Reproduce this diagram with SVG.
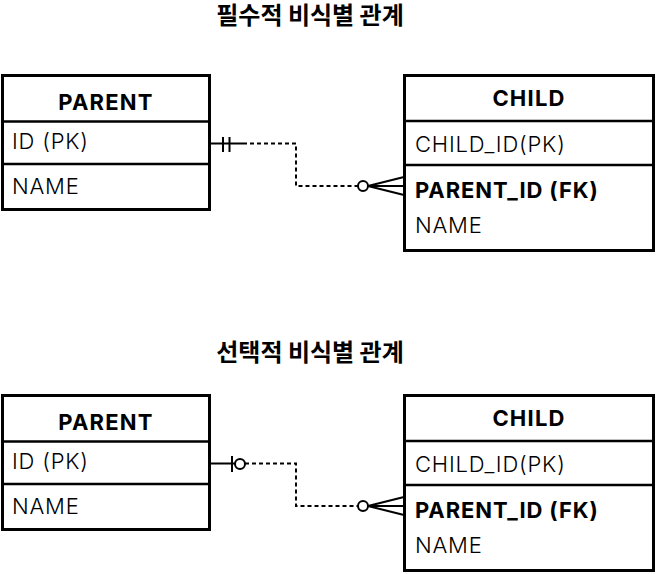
<svg xmlns="http://www.w3.org/2000/svg" width="656" height="574" viewBox="0 0 656 574">
<style>
.box{fill:#fff;stroke:#000;stroke-width:3}
.div{stroke:#000;stroke-width:2.5}
.t{font-family:Inter,"Noto Sans",sans-serif;font-size:22px;font-weight:300;letter-spacing:0.8px;fill:#000}
.h{font-weight:bold;text-anchor:middle;letter-spacing:1.2px}
.b{font-weight:bold;letter-spacing:0.9px}
.title{font-family:"Noto Sans CJK KR",sans-serif;font-size:24px;font-weight:bold;text-anchor:middle;fill:#000}
.ln{fill:none;stroke:#000;stroke-width:2}
.dash{fill:none;stroke:#000;stroke-width:2;stroke-dasharray:4 3}
.c{fill:#fff;stroke:#000;stroke-width:2}
</style>
<text class="title" x="310" y="24">필수적 비식별 관계</text>
<text class="title" x="310" y="361">선택적 비식별 관계</text>
<g id="parent1">
<rect class="box" x="2.5" y="75.5" width="207" height="134"/>
<line class="div" x1="2.5" y1="121.5" x2="209.5" y2="121.5"/>
<line class="div" x1="2.5" y1="164" x2="209.5" y2="164"/>
<text class="t h" x="106" y="110">PARENT</text>
<text class="t" x="12" y="149">ID (PK)</text>
<text class="t" x="12" y="194">NAME</text>
</g>
<g id="child1">
<rect class="box" x="404.5" y="75.5" width="249" height="175"/>
<line class="div" x1="404.5" y1="121" x2="653.5" y2="121"/>
<line class="div" x1="404.5" y1="165" x2="653.5" y2="165"/>
<text class="t h" x="529" y="106">CHILD</text>
<text class="t" x="415" y="152">CHILD_ID(PK)</text>
<text class="t b" x="415" y="198">PARENT_ID (FK)</text>
<text class="t" x="415" y="233">NAME</text>
</g>
<g id="parent2">
<rect class="box" x="2.5" y="395.5" width="207" height="134"/>
<line class="div" x1="2.5" y1="441.5" x2="209.5" y2="441.5"/>
<line class="div" x1="2.5" y1="484" x2="209.5" y2="484"/>
<text class="t h" x="106" y="430">PARENT</text>
<text class="t" x="12" y="469">ID (PK)</text>
<text class="t" x="12" y="514">NAME</text>
</g>
<g id="child2">
<rect class="box" x="404.5" y="395.5" width="249" height="175"/>
<line class="div" x1="404.5" y1="441" x2="653.5" y2="441"/>
<line class="div" x1="404.5" y1="485" x2="653.5" y2="485"/>
<text class="t h" x="529" y="426">CHILD</text>
<text class="t" x="415" y="472">CHILD_ID(PK)</text>
<text class="t b" x="415" y="518">PARENT_ID (FK)</text>
<text class="t" x="415" y="553">NAME</text>
</g>
<g id="connectors">
<path class="ln" d="M211,143.5 H243 M223,137 V152 M229.5,137 V152"/>
<path class="dash" d="M243,143.5 H296 V186 H358"/>
<circle class="c" cx="363" cy="186" r="5"/>
<path class="ln" d="M368,186 L404,177 M368,186 H404 M368,186 L404,195"/>
<path class="ln" d="M211,463.5 H235 M232,456 V472"/>
<circle class="c" cx="240" cy="464" r="5"/>
<path class="dash" d="M245,463.5 H296 V506 H358"/>
<circle class="c" cx="363" cy="506" r="5"/>
<path class="ln" d="M368,506 L404,497 M368,506 H404 M368,506 L404,515"/>
</g>
</svg>
